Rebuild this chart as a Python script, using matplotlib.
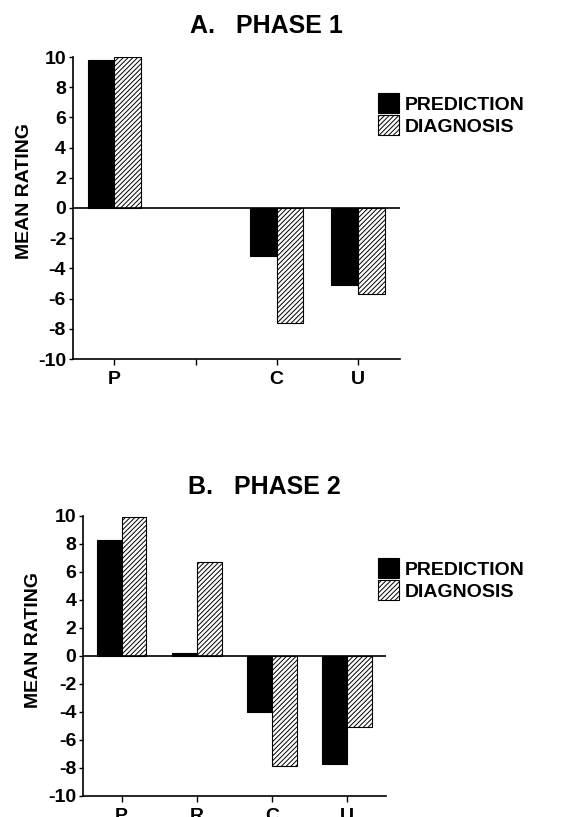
import numpy as np
import matplotlib
matplotlib.use('Agg')
import matplotlib.pyplot as plt

plt.rcParams['font.family'] = ['Liberation Sans', 'DejaVu Sans']
plt.rcParams['font.weight'] = 'bold'
plt.rcParams['hatch.linewidth'] = 0.7
plt.rcParams['axes.unicode_minus'] = False

# data
categories = ['P', 'R', 'C', 'U']
phase1_labels = ['P', '', 'C', 'U']
phase2_labels = ['P', 'R', 'C', 'U']
phase1_prediction = [9.8, np.nan, -3.2, -5.1]
phase1_diagnosis = [10.0, np.nan, -7.6, -5.7]
phase2_prediction = [8.3, 0.2, -4.0, -7.7]
phase2_diagnosis = [9.9, 6.7, -7.9, -5.1]

W, H = 564, 817
fig = plt.figure(figsize=(W / 100, H / 100), dpi=100)


def draw_panel(rect, title, title_xy, ylabel_xy, legend_xy, pred, diag, xlabels):
    ax = fig.add_axes(rect)
    x = np.arange(len(categories))
    w = 0.33
    ax.bar(x - w / 2, pred, w, color='black', edgecolor='black', linewidth=0.8, label='PREDICTION')
    ax.bar(x + w / 2, diag, w, color='white', edgecolor='black', hatch='///////', linewidth=0.8, label='DIAGNOSIS')
    ax.axhline(0, color='black', lw=1.2)

    ax.set_xlim(-0.51, 3.52)
    ax.set_ylim(-10, 10)
    ax.set_yticks(range(-10, 11, 2))
    ax.set_xticks(x)
    ax.set_xticklabels(xlabels)
    for s in ['top', 'right']:
        ax.spines[s].set_visible(False)
    for s in ['left', 'bottom']:
        ax.spines[s].set_linewidth(1.2)
    ax.tick_params(axis='y', length=3, width=1, pad=2, labelsize=14)
    ax.tick_params(axis='x', length=4, width=1, pad=5, labelsize=14)
    for lab in ax.get_xticklabels() + ax.get_yticklabels():
        lab.set_fontweight('bold')

    fig.text(title_xy[0] / W, 1 - title_xy[1] / H, title, fontsize=18, fontweight='bold',
             ha='center', va='center')
    fig.text(ylabel_xy[0] / W, 1 - ylabel_xy[1] / H, 'MEAN RATING', fontsize=14, fontweight='bold',
             rotation=90, ha='center', va='center')
    fig.legend(*ax.get_legend_handles_labels(), loc='upper left',
               bbox_to_anchor=(legend_xy[0] / W, 1 - legend_xy[1] / H),
               frameon=False, borderpad=0, borderaxespad=0,
               handlelength=1.1, handleheight=1.2, handletextpad=0.3, labelspacing=0.1,
               prop={'weight': 'bold', 'size': 14})
    return ax


# panel A
draw_panel([73 / W, 1 - 359 / H, 327 / W, 302 / H], 'A.   PHASE 1', (266, 26), (25, 191),
           (378, 93), phase1_prediction, phase1_diagnosis, phase1_labels)
# panel B
draw_panel([83.3 / W, 1 - 795.7 / H, 302.7 / W, 280 / H], 'B.   PHASE 2', (264, 487), (34, 640),
           (378, 558), phase2_prediction, phase2_diagnosis, phase2_labels)

plt.savefig('out.png', dpi=100)
